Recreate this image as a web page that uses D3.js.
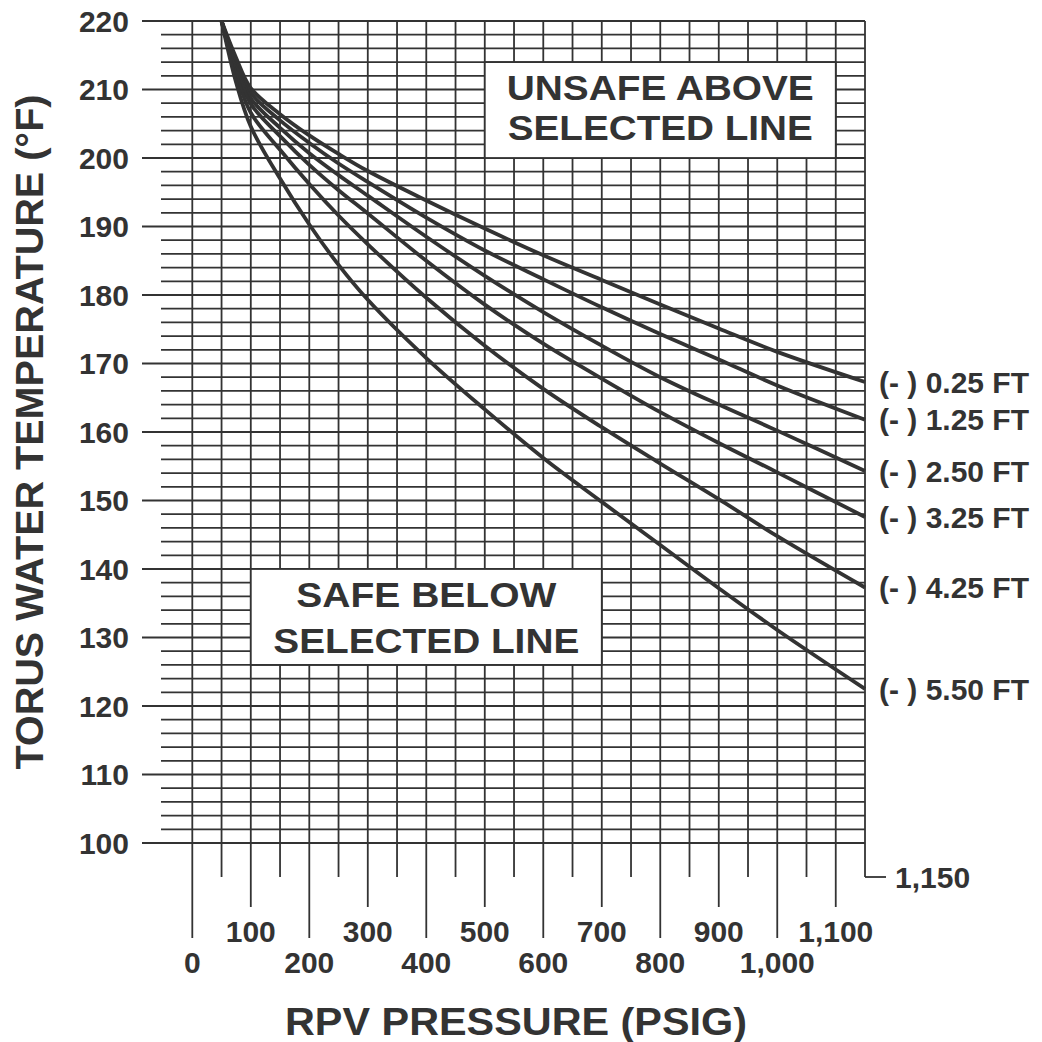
<!DOCTYPE html>
<html>
<head>
<meta charset="utf-8">
<script src="https://cdn.jsdelivr.net/npm/d3@7"></script>
<style>
	body { margin: 0; background: #fff; }
	text { font-family: 'Liberation Sans', Arial, sans-serif; font-weight: bold; fill: #333; }
</style>
</head>
<body>
<svg id="torus-chart" width="1042" height="1042"></svg>
<script>

// RPV pressure (psig) where each curve was read
var pressure = [50, 75, 100, 150, 200, 250, 300, 400, 500, 600, 700, 800, 900, 1000, 1150];

var levelLabels = ['(- ) 0.25 FT', '(- ) 1.25 FT', '(- ) 2.50 FT', '(- ) 3.25 FT', '(- ) 4.25 FT', '(- ) 5.50 FT'];

// torus water temperature (F) for each level
var temp025 = [220, 214.6, 210.2, 206.4, 203.3, 200.6, 198.1, 193.8, 189.7, 185.8, 182.2, 178.6, 175.1, 171.7, 167.3];
var temp125 = [220, 214.1, 209.5, 205.5, 202.2, 199.2, 196.5, 191.3, 186.5, 182.3, 178.2, 174.3, 170.6, 166.8, 161.8];
var temp250 = [220, 213.5, 208.7, 204.4, 200.7, 197.5, 194.5, 188.5, 182.8, 177.5, 172.6, 168.0, 164.0, 160.2, 154.3];
var temp325 = [220, 213.0, 207.9, 203.2, 199.0, 195.3, 191.9, 185.0, 178.6, 172.9, 167.8, 162.9, 158.4, 154.1, 147.6];
var temp425 = [220, 212.2, 206.6, 201.2, 196.2, 191.6, 187.4, 179.6, 172.6, 166.3, 160.7, 155.4, 150.2, 144.8, 137.3];
var temp550 = [220, 211.0, 204.6, 197.0, 190.3, 184.4, 179.3, 170.8, 163.3, 156.2, 149.8, 143.5, 137.2, 131.1, 122.5];

var tempTicks = [100, 110, 120, 130, 140, 150, 160, 170, 180, 190, 200, 210, 220];
var pressTicksHigh = [100, 300, 500, 700, 900, 1100];
var pressTicksLow = [0, 200, 400, 600, 800, 1000];
var pressMax = 1150;

function makeTorusChart(){

	var ink = '#333';
	var svg = d3.select('#torus-chart');

	var x = d3.scaleLinear().domain([0, pressMax]).range([192.3, 865]);
	var y = d3.scaleLinear().domain([100, 220]).range([843, 21]);

	var grid = svg.append('g');

	// horizontal lines every 2 F, the labelled ones run further left
	grid.selectAll('line.h')
		.data(d3.range(100, 221, 2))
		.enter()
		.append('line')
			.attr('x1', d => d % 10 === 0 ? 142 : 161)
			.attr('x2', x(pressMax))
			.attr('y1', d => y(d))
			.attr('y2', d => y(d))
			.attr('stroke', ink)
			.attr('stroke-width', 1.8);

	// vertical lines every 50 psig, hanging below the plot as ticks
	grid.selectAll('line.v')
		.data(d3.range(0, pressMax + 1, 50))
		.enter()
		.append('line')
			.attr('x1', d => x(d))
			.attr('x2', d => x(d))
			.attr('y1', y(220))
			.attr('y2', d => d % 200 === 0 ? 938 : (d % 100 === 0 ? 907 : 877))
			.attr('stroke', ink)
			.attr('stroke-width', 1.8);

	grid.append('line')
		.attr('x1', x(pressMax))
		.attr('x2', x(pressMax) + 21)
		.attr('y1', 877)
		.attr('y2', 877)
		.attr('stroke', ink)
		.attr('stroke-width', 1.8);

	// white note boxes sit on the grid
	var notes = [
		{p0: 500, p1: 1100, t0: 214, t1: 200, lines: ['UNSAFE ABOVE', 'SELECTED LINE'], base: [99.5, 140], w: [307, 305]},
		{p0: 100, p1: 700, t0: 140, t1: 126, lines: ['SAFE BELOW', 'SELECTED LINE'], base: [606.5, 652.5], w: [260, 306]}
	];

	var noteGroups = svg.selectAll('g.note')
		.data(notes)
		.enter()
		.append('g');

	noteGroups.append('rect')
		.attr('x', d => x(d.p0))
		.attr('y', d => y(d.t0))
		.attr('width', d => x(d.p1) - x(d.p0))
		.attr('height', d => y(d.t1) - y(d.t0))
		.attr('fill', '#fff')
		.attr('stroke', ink)
		.attr('stroke-width', 1.8);

	noteGroups.each(function(d){
		var g = d3.select(this);
		d.lines.forEach(function(s, i){
			g.append('text')
				.attr('x', (x(d.p0) + x(d.p1)) / 2)
				.attr('y', d.base[i])
				.attr('text-anchor', 'middle')
				.attr('font-size', 35)
				.attr('textLength', d.w[i])
				.attr('lengthAdjust', 'spacingAndGlyphs')
				.text(s);
		});
	});

	// the six level curves
	var series = [temp025, temp125, temp250, temp325, temp425, temp550];

	var line = d3.line()
		.x((d, i) => x(pressure[i]))
		.y(d => y(d))
		.curve(d3.curveCatmullRom.alpha(0.5));

	svg.append('g')
		.selectAll('path')
			.data(series)
		.enter()
		.append('path')
			.attr('d', line)
			.attr('fill', 'none')
			.attr('stroke', ink)
			.attr('stroke-width', 3.8)
			.attr('stroke-linejoin', 'round');

	svg.append('g')
		.selectAll('text')
			.data(series)
		.enter()
		.append('text')
			.attr('x', 879)
			.attr('y', d => y(d[d.length - 1]))
			.attr('dy', '0.36em')
			.attr('font-size', 30)
			.text((d, i) => levelLabels[i]);

	// tick labels
	svg.append('g')
		.selectAll('text')
			.data(tempTicks)
		.enter()
		.append('text')
			.attr('x', 129)
			.attr('y', d => y(d))
			.attr('dy', '0.36em')
			.attr('text-anchor', 'end')
			.attr('font-size', 30)
			.text(d => d);

	var fmt = d3.format(',');

	svg.append('g')
		.selectAll('text')
			.data(pressTicksHigh)
		.enter()
		.append('text')
			.attr('x', d => x(d))
			.attr('y', 942)
			.attr('text-anchor', 'middle')
			.attr('font-size', 30)
			.text(d => fmt(d));

	svg.append('g')
		.selectAll('text')
			.data(pressTicksLow)
		.enter()
		.append('text')
			.attr('x', d => x(d))
			.attr('y', 973)
			.attr('text-anchor', 'middle')
			.attr('font-size', 30)
			.text(d => fmt(d));

	svg.append('text')
		.attr('x', 895)
		.attr('y', 877)
		.attr('dy', '0.36em')
		.attr('font-size', 30)
		.text(fmt(pressMax));

	// axis titles
	svg.append('text')
		.attr('x', 516)
		.attr('y', 1035)
		.attr('text-anchor', 'middle')
		.attr('font-size', 39)
		.attr('textLength', 462)
		.attr('lengthAdjust', 'spacingAndGlyphs')
		.text('RPV PRESSURE (PSIG)');

	svg.append('text')
		.attr('transform', 'translate(43, 432) rotate(-90)')
		.attr('text-anchor', 'middle')
		.attr('font-size', 39)
		.attr('textLength', 675)
		.attr('lengthAdjust', 'spacingAndGlyphs')
		.text('TORUS WATER TEMPERATURE (°F)');
}

makeTorusChart();
</script>
</body>
</html>
